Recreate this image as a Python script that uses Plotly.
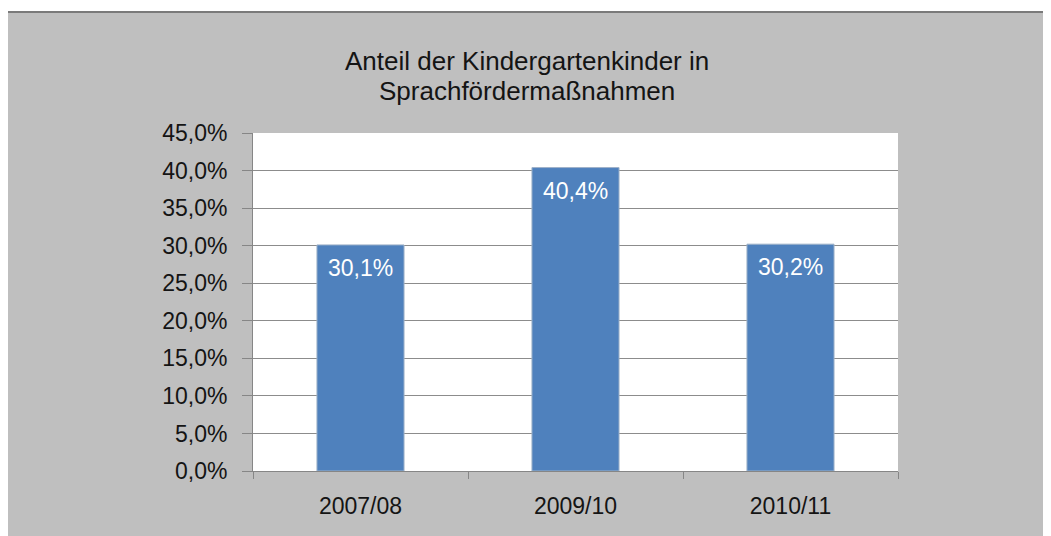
import plotly.graph_objects as go

categories = ["2007/08", "2009/10", "2010/11"]
values = [30.1, 40.4, 30.2]
title_lines = ["Anteil der Kindergartenkinder in", "Sprachfördermaßnahmen"]

# figure is placed by the page at (8, 8)
W, H = 1043, 528
L, R, T, B = 245, 890, 125, 463

FONT = "Liberation Sans, Arial, sans-serif"
BG = "#bfbfbf"
TXT = "#141414"

fig = go.Figure()
fig.add_trace(go.Bar(
    x=categories, y=values,
    marker=dict(color="#4f81bd", line=dict(color="#9fb2c9", width=1)),
    hoverinfo="x+y",
))

for c, v in zip(categories, values):
    fig.add_annotation(
        x=c, y=v, xref="x", yref="y",
        text=f"{v:.1f}%".replace(".", ","),
        showarrow=False, yanchor="middle", yshift=-23,
        font=dict(family=FONT, size=23, color="white"),
    )

def px(xp):
    return (xp - L) / (R - L)

def py(yp):
    return (B - yp) / (B - T)

# title, two centred lines
for line, yc in zip(title_lines, [53, 83]):
    fig.add_annotation(
        x=px(519), y=py(yc), xref="paper", yref="paper",
        text=line, showarrow=False, xanchor="center", yanchor="middle",
        font=dict(family=FONT, size=26, color=TXT),
    )

# white top strip and dark edge line
fig.add_shape(type="rect", xref="paper", yref="paper", x0=px(0), x1=px(W), y0=py(3), y1=py(0),
              fillcolor="white", line_width=0, layer="above")
fig.add_shape(type="line", xref="paper", yref="paper", x0=px(0), x1=px(W), y0=py(4), y1=py(4),
              line=dict(color="#7a7a7a", width=2), layer="above")

fig.update_layout(
    width=W, height=H,
    margin=dict(l=L, r=W - R, t=T, b=H - B, pad=0),
    paper_bgcolor=BG, plot_bgcolor="white",
    separators=",.",
    showlegend=False,
    bargap=0.595,
    font=dict(family=FONT, color=TXT),
)
fig.update_xaxes(
    type="category",
    showline=True, linecolor="#868686", linewidth=1,
    ticks="outside", tickson="boundaries", ticklen=7, tickcolor="#868686",
    tickfont=dict(family=FONT, size=23, color=TXT),
    ticklabelstandoff=14,
    showgrid=False, zeroline=False,
)
fig.update_yaxes(
    range=[0, 45], dtick=5, tick0=0,
    tickformat=".1f", ticksuffix="%",
    showline=True, linecolor="#868686", linewidth=1,
    ticks="outside", ticklen=10, tickcolor="#868686",
    tickfont=dict(family=FONT, size=23, color=TXT),
    ticklabelstandoff=10,
    showgrid=True, gridcolor="#8c8c8c", gridwidth=1,
    zeroline=False,
)

fig.write_html("out.html", post_script="document.body.style.overflow='hidden';")
